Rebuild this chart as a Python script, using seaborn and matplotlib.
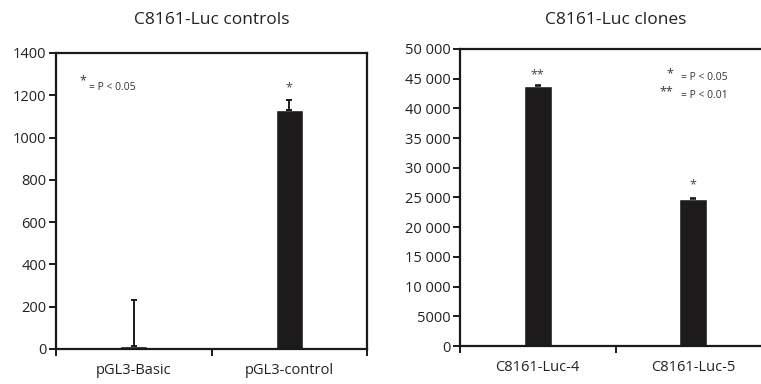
import numpy as np
import pandas as pd
import matplotlib.pyplot as plt
import seaborn as sns
from matplotlib.ticker import FixedLocator, NullFormatter

# ── data ──
ctrl_names = ["pGL3-Basic", "pGL3-control"]
ctrl_vals = [12, 1130]
ctrl_err = [218, 50]

clone_names = ["C8161-Luc-4", "C8161-Luc-5"]
clone_vals = [43800, 24800]
clone_err = [150, 80]

clone_ticks = [0, 5000, 10000, 15000, 20000, 25000, 30000, 35000, 40000, 45000, 50000]
clone_tick_labels = ["0", "5000", "10 000", "15 000", "20 000", "25 000",
                     "30 000", "35 000", "40 000", "45 000", "50 000"]

sns.set_style("white")
plt.rcParams["font.family"] = ["Open Sans", "DejaVu Sans"]

fig = plt.figure(figsize=(7.61, 3.84), dpi=100)
ax1 = fig.add_axes([56 / 761, 1 - 349 / 384, 311 / 761, 296 / 384])
# right panel runs off the canvas edge like the original crop
ax2 = fig.add_axes([460 / 761, 1 - 346 / 384, 311 / 761, 297 / 384])


def style_axes(ax, names):
    for s in ax.spines.values():
        s.set_linewidth(1.6)
        s.set_color("#1a1a1a")
    ax.set_xlim(-0.5, 1.5)
    # excel style: ticks between categories, labels centred under bars
    ax.xaxis.set_major_locator(FixedLocator([-0.5, 0.5, 1.5]))
    ax.xaxis.set_major_formatter(NullFormatter())
    ax.xaxis.set_minor_locator(FixedLocator([0, 1]))
    ax.set_xticklabels(names, minor=True)
    ax.tick_params(axis="x", which="major", direction="out", length=5, width=1.4,
                   bottom=True, color="#1a1a1a")
    ax.tick_params(axis="x", which="minor", length=0, pad=10, labelsize=10.5,
                   labelcolor="#222222")
    ax.tick_params(axis="y", direction="out", length=5, width=1.4, left=True,
                   color="#1a1a1a", labelsize=10.5, labelcolor="#222222", pad=2)
    ax.set_xlabel("")
    ax.set_ylabel("")


# ── left: controls ──
df1 = pd.DataFrame({"name": ctrl_names, "val": ctrl_vals})
sns.barplot(data=df1, x="name", y="val", color="#1c1a1b", width=0.175,
            saturation=1, ax=ax1, errorbar=None)
ax1.errorbar(range(len(ctrl_vals)), ctrl_vals, yerr=[[0, 0], ctrl_err],
             fmt="none", ecolor="#1a1a1a", elinewidth=1.4, capsize=2.2, capthick=1.4)
ax1.set_ylim(0, 1400)
ax1.set_yticks(np.arange(0, 1401, 200))
style_axes(ax1, ctrl_names)
ax1.set_title("C8161-Luc controls", fontsize=12.5, pad=21, color="#222222")
ax1.text(1, ctrl_vals[1] + ctrl_err[1] + 25, "*", ha="center", va="bottom",
         fontsize=9, color="#444444")
ax1.text(0.085, 0.907, "*", transform=ax1.transAxes, fontsize=9, color="#333333",
         ha="center", va="center")
ax1.text(0.106, 0.885, "= P < 0.05", transform=ax1.transAxes, fontsize=7.5,
         color="#333333", ha="left", va="center")

# ── right: clones ──
df2 = pd.DataFrame({"name": clone_names, "val": clone_vals})
sns.barplot(data=df2, x="name", y="val", color="#1c1a1b", width=0.18,
            saturation=1, ax=ax2, errorbar=None)
ax2.errorbar(range(len(clone_vals)), clone_vals, yerr=[[0, 0], clone_err],
             fmt="none", ecolor="#1a1a1a", elinewidth=1.2, capsize=2, capthick=1.2)
ax2.set_ylim(0, 50000)
ax2.set_yticks(clone_ticks)
ax2.set_yticklabels(clone_tick_labels)
style_axes(ax2, clone_names)
ax2.set_title("C8161-Luc clones", fontsize=12.5, pad=18, color="#222222")
ax2.text(0, clone_vals[0] + 700, "**", ha="center", va="bottom",
         fontsize=9, color="#444444")
ax2.text(1, clone_vals[1] + 1300, "*", ha="center", va="bottom",
         fontsize=9, color="#444444")
ax2.text(0.685, 0.915, "*", transform=ax2.transAxes, fontsize=9, color="#333333",
         ha="right", va="center")
ax2.text(0.71, 0.905, "= P < 0.05", transform=ax2.transAxes, fontsize=7.5,
         color="#333333", ha="left", va="center")
ax2.text(0.685, 0.855, "**", transform=ax2.transAxes, fontsize=9, color="#333333",
         ha="right", va="center")
ax2.text(0.71, 0.842, "= P < 0.01", transform=ax2.transAxes, fontsize=7.5,
         color="#333333", ha="left", va="center")

fig.savefig("out.png", dpi=100)
